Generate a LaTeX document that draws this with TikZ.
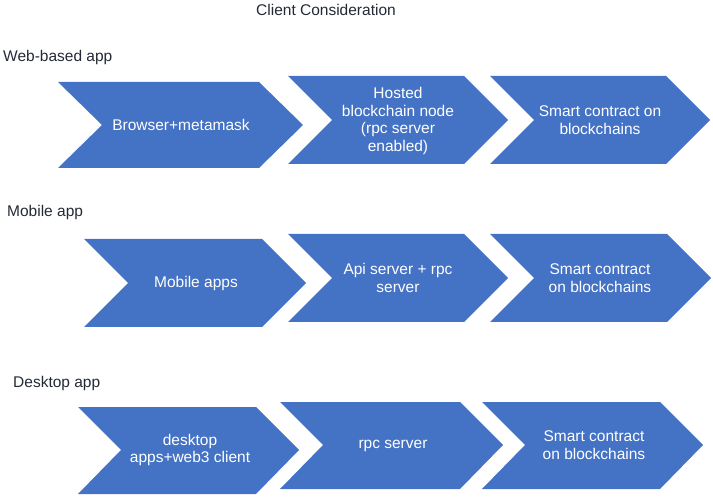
\documentclass[tikz,border=0pt]{standalone}
\usepackage{fontspec}
\setmainfont{Liberation Sans}
\usepackage{tikz}

\definecolor{chevblue}{HTML}{4472C4}
\definecolor{headgray}{HTML}{232A36}

\begin{document}
\begin{tikzpicture}[x=1pt,y=-1pt,
    chev/.style={fill=chevblue},
    chevtext/.style={text=white,align=center,inner sep=0pt,font=\fontsize{15.5}{17.5}\selectfont},
    heading/.style={text=headgray,inner sep=0pt,font=\fontsize{15.5}{17.5}\selectfont}]
      \useasboundingbox (0,0) rectangle (713,497);

      % Title and row headings
      \node[heading] (title) at (326,10) {Client Consideration};
      \node[heading,anchor=west] (webapp) at (3,57) {Web-based app};
      \node[heading,anchor=west] (mobapp) at (7,212) {Mobile app};
      \node[heading,anchor=west] (deskapp) at (13,383) {Desktop app};

      % Web-based row
      \fill[chev] (58,82) -- (259,82) -- (303,125) -- (259,168) -- (58,168) -- (102,125) -- cycle;
      \fill[chev] (288,76) -- (464,76) -- (508,120) -- (464,164) -- (288,164) -- (332,120) -- cycle;
      \fill[chev] (490,76) -- (666,76) -- (710,120) -- (666,164) -- (490,164) -- (534,120) -- cycle;
      \node[chevtext] (web1) at (181,125) {Browser+metamask};
      \node[chevtext] (web2) at (398,121) {Hosted\\blockchain node\\(rpc server\\enabled)};
      \node[chevtext] (web3) at (600,120) {Smart contract on\\blockchains};

      % Mobile row
      \fill[chev] (84,239) -- (262,239) -- (306,283) -- (262,327) -- (84,327) -- (128,283) -- cycle;
      \fill[chev] (288,234) -- (464,234) -- (508,278) -- (464,322) -- (288,322) -- (332,278) -- cycle;
      \fill[chev] (490,234) -- (667,234) -- (711,278) -- (667,322) -- (490,322) -- (534,278) -- cycle;
      \node[chevtext] (mob1) at (196,283) {Mobile apps};
      \node[chevtext] (mob2) at (398,278) {Api server + rpc\\server};
      \node[chevtext] (mob3) at (600,278) {Smart contract\\on blockchains};

      % Desktop row
      \fill[chev] (78,407) -- (256,407) -- (299,450) -- (256,494) -- (78,494) -- (121,450) -- cycle;
      \fill[chev] (280,402) -- (460,402) -- (503,445) -- (460,489) -- (280,489) -- (323,445) -- cycle;
      \fill[chev] (482,402) -- (660,402) -- (703,445) -- (660,489) -- (482,489) -- (525,445) -- cycle;
      \node[chevtext] (desk1) at (190,450) {desktop\\apps+web3 client};
      \node[chevtext] (desk2) at (393,446) {rpc server};
      \node[chevtext] (desk3) at (594,445) {Smart contract\\on blockchains};
    \end{tikzpicture}
\end{document}
